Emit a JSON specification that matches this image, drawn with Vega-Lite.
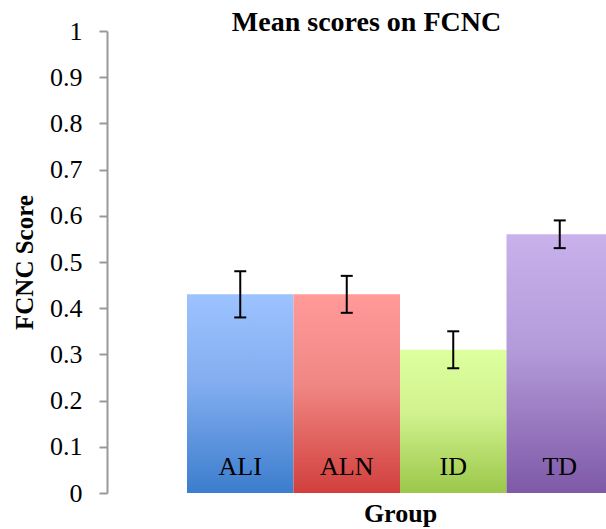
{
  "$schema": "https://vega.github.io/schema/vega-lite/v6.json",
  "width": 499,
  "height": 462,
  "autosize": {"type": "none"},
  "padding": {"left": 107, "top": 31, "right": 0, "bottom": 36},
  "background": "white",
  "config": {
    "view": {"stroke": null},
    "font": "Liberation Serif",
    "axisY": {
      "grid": false,
      "domainColor": "#999999",
      "domainWidth": 2,
      "tickColor": "#999999",
      "tickWidth": 2,
      "tickSize": 8,
      "labelFont": "Liberation Serif",
      "labelFontSize": 26,
      "labelColor": "black",
      "labelPadding": 17,
      "titleFont": "Liberation Serif",
      "titleFontSize": 25,
      "titleFontWeight": "bold",
      "titleColor": "black",
      "titleX": -75,
      "titleY": 231,
      "titleAlign": "center",
      "titleBaseline": "alphabetic",
      "titleAngle": 270
    }
  },
  "title": {
    "text": "Mean scores on FCNC",
    "font": "Liberation Serif",
    "fontSize": 28,
    "fontWeight": "bold",
    "color": "black",
    "anchor": "middle",
    "frame": "group",
    "offset": 0,
    "baseline": "alphabetic",
    "dx": 10,
    "dy": 41
  },
  "data": {
    "values": [
      {"group": "ALI", "mean": 0.43, "lo": 0.38, "hi": 0.48},
      {"group": "ALN", "mean": 0.43, "lo": 0.39, "hi": 0.47},
      {"group": "ID", "mean": 0.31, "lo": 0.27, "hi": 0.35},
      {"group": "TD", "mean": 0.56, "lo": 0.53, "hi": 0.59}
    ]
  },
  "encoding": {
    "x": {
      "field": "group",
      "type": "nominal",
      "sort": null,
      "scale": {"range": [80, 506], "paddingInner": 0, "paddingOuter": 0},
      "axis": {
        "domain": false,
        "ticks": false,
        "labels": false,
        "title": "Group",
        "titleFont": "Liberation Serif",
        "titleFontSize": 26,
        "titleFontWeight": "bold",
        "titleColor": "black",
        "titleX": 293,
        "titleY": 28,
        "titleAlign": "center",
        "titleBaseline": "alphabetic"
      }
    }
  },
  "layer": [
    {
      "transform": [{"filter": "datum.group === 'ALI'"}],
      "mark": {"type": "bar", "clip": true, "color": {"gradient": "linear", "x1": 0, "y1": 0, "x2": 0, "y2": 1, "stops": [{"offset": 0, "color": "#9CC3FF"}, {"offset": 0.45, "color": "#82ADF0"}, {"offset": 1, "color": "#3C7DCD"}]}},
      "encoding": {
        "y": {
          "field": "mean",
          "type": "quantitative",
          "scale": {"domain": [0, 1], "nice": false, "zero": true},
          "axis": {"title": "FCNC Score", "values": [0, 0.1, 0.2, 0.3, 0.4, 0.5, 0.6, 0.7, 0.8, 0.9, 1], "format": "~g"}
        }
      }
    },
    {
      "transform": [{"filter": "datum.group === 'ALN'"}],
      "mark": {"type": "bar", "clip": true, "color": {"gradient": "linear", "x1": 0, "y1": 0, "x2": 0, "y2": 1, "stops": [{"offset": 0, "color": "#FF9A99"}, {"offset": 0.45, "color": "#F08784"}, {"offset": 1, "color": "#D13F3C"}]}},
      "encoding": {"y": {"field": "mean", "type": "quantitative", "axis": {"title": "FCNC Score", "values": [0, 0.1, 0.2, 0.3, 0.4, 0.5, 0.6, 0.7, 0.8, 0.9, 1], "format": "~g"}}}
    },
    {
      "transform": [{"filter": "datum.group === 'ID'"}],
      "mark": {"type": "bar", "clip": true, "color": {"gradient": "linear", "x1": 0, "y1": 0, "x2": 0, "y2": 1, "stops": [{"offset": 0, "color": "#DEFF9E"}, {"offset": 0.45, "color": "#D0F18D"}, {"offset": 1, "color": "#9BC74A"}]}},
      "encoding": {"y": {"field": "mean", "type": "quantitative", "axis": {"title": "FCNC Score", "values": [0, 0.1, 0.2, 0.3, 0.4, 0.5, 0.6, 0.7, 0.8, 0.9, 1], "format": "~g"}}}
    },
    {
      "transform": [{"filter": "datum.group === 'TD'"}],
      "mark": {"type": "bar", "clip": true, "color": {"gradient": "linear", "x1": 0, "y1": 0, "x2": 0, "y2": 1, "stops": [{"offset": 0, "color": "#C9B1EC"}, {"offset": 0.45, "color": "#B39AD9"}, {"offset": 1, "color": "#7E59A7"}]}},
      "encoding": {"y": {"field": "mean", "type": "quantitative", "axis": {"title": "FCNC Score", "values": [0, 0.1, 0.2, 0.3, 0.4, 0.5, 0.6, 0.7, 0.8, 0.9, 1], "format": "~g"}}}
    },
    {
      "mark": {"type": "rule", "color": "black", "strokeWidth": 2},
      "encoding": {
        "y": {"field": "lo", "type": "quantitative", "axis": {"title": "FCNC Score", "values": [0, 0.1, 0.2, 0.3, 0.4, 0.5, 0.6, 0.7, 0.8, 0.9, 1], "format": "~g"}},
        "y2": {"field": "hi"}
      }
    },
    {
      "mark": {"type": "tick", "color": "black", "thickness": 2, "size": 12, "opacity": 1},
      "encoding": {"y": {"field": "lo", "type": "quantitative", "axis": {"title": "FCNC Score", "values": [0, 0.1, 0.2, 0.3, 0.4, 0.5, 0.6, 0.7, 0.8, 0.9, 1], "format": "~g"}}}
    },
    {
      "mark": {"type": "tick", "color": "black", "thickness": 2, "size": 12, "opacity": 1},
      "encoding": {"y": {"field": "hi", "type": "quantitative", "axis": {"title": "FCNC Score", "values": [0, 0.1, 0.2, 0.3, 0.4, 0.5, 0.6, 0.7, 0.8, 0.9, 1], "format": "~g"}}}
    },
    {
      "mark": {"type": "text", "font": "Liberation Serif", "fontSize": 26, "color": "black", "baseline": "alphabetic", "align": "center", "dy": -18},
      "encoding": {
        "y": {"datum": 0, "type": "quantitative", "axis": {"title": "FCNC Score", "values": [0, 0.1, 0.2, 0.3, 0.4, 0.5, 0.6, 0.7, 0.8, 0.9, 1], "format": "~g"}},
        "text": {"field": "group"}
      }
    }
  ]
}
